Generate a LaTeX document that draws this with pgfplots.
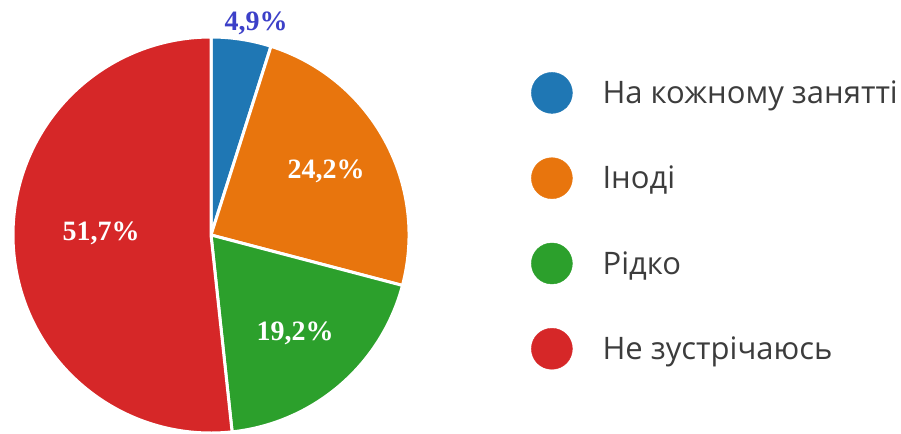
\documentclass[border=0pt]{standalone}
\usepackage{fontspec}
\setmainfont{Liberation Serif}
\newfontfamily\legfont{Open Sans}
\usepackage{pgfplots}
\usepackage{pgfplotstable}
\pgfplotsset{compat=1.18}

\definecolor{cA}{RGB}{31,119,180}
\definecolor{cB}{RGB}{232,117,13}
\definecolor{cC}{RGB}{44,160,44}
\definecolor{cD}{RGB}{214,39,40}
\definecolor{lbl}{RGB}{60,64,200}
\definecolor{legtext}{RGB}{60,60,60}

% share of answers, percent
\pgfplotstableread{
id value
A 4.9
B 24.2
C 19.2
D 51.7
}\piedata

% pie centre and radius in pixel units (y measured from the bottom)
\def\cx{211}
\def\cy{199}
\def\rad{198}

% start/end angles, clockwise from the top
\def\cum{0}
\foreach \i in {0,...,3}{
  \pgfplotstablegetelem{\i}{value}\of\piedata
  \pgfmathsetmacro\sa{90-3.6*\cum}
  \pgfmathsetmacro\newcum{\cum+\pgfplotsretval}
  \pgfmathsetmacro\ea{90-3.6*\newcum}
  \expandafter\xdef\csname sa\i\endcsname{\sa}
  \expandafter\xdef\csname ea\i\endcsname{\ea}
  \xdef\cum{\newcum}
}

\begin{document}
\begin{tikzpicture}
\begin{axis}[
    width=901bp, height=434bp,
    scale only axis,
    xmin=0, xmax=901, ymin=0, ymax=434,
    hide axis,
    clip=false,
    legend image code/.code={\fill[#1] (0bp,0bp) circle (20.5bp);},
    legend style={
      at={(axis cs:528,364)}, anchor=north west,
      draw=none, fill=none,
      font=\legfont\fontsize{31bp}{35bp}\selectfont,
      text=legtext,
      row sep=43.9bp,
      column sep=28bp,
      cells={anchor=west},
    },
]
\addlegendimage{cA}
\addlegendentry{На кожному занятті}
\addlegendimage{cB}
\addlegendentry{Іноді}
\addlegendimage{cC}
\addlegendentry{Рідко}
\addlegendimage{cD}
\addlegendentry{Не зустрічаюсь}

\foreach \i/\c in {0/cA,1/cB,2/cC,3/cD}{
  \edef\doslice{\noexpand\fill[\c, draw=white, line width=3bp, line join=round]
    (axis cs:\cx,\cy) -- ++(\csname sa\i\endcsname:\rad bp)
    arc[start angle=\csname sa\i\endcsname, end angle=\csname ea\i\endcsname, radius=\rad bp]
    -- cycle;}
  \doslice
}

\begin{scope}[font=\bfseries\fontsize{28bp}{32bp}\selectfont]
\node[lbl] at (axis cs:256,411) {4,9\%};
\node[white] at (axis cs:326,263) {24,2\%};
\node[white] at (axis cs:295,101) {19,2\%};
\node[white] at (axis cs:101,201) {51,7\%};
\end{scope}
\end{axis}
\pgfresetboundingbox
\useasboundingbox (0,0) rectangle (901bp,434bp);
\end{tikzpicture}
\end{document}
